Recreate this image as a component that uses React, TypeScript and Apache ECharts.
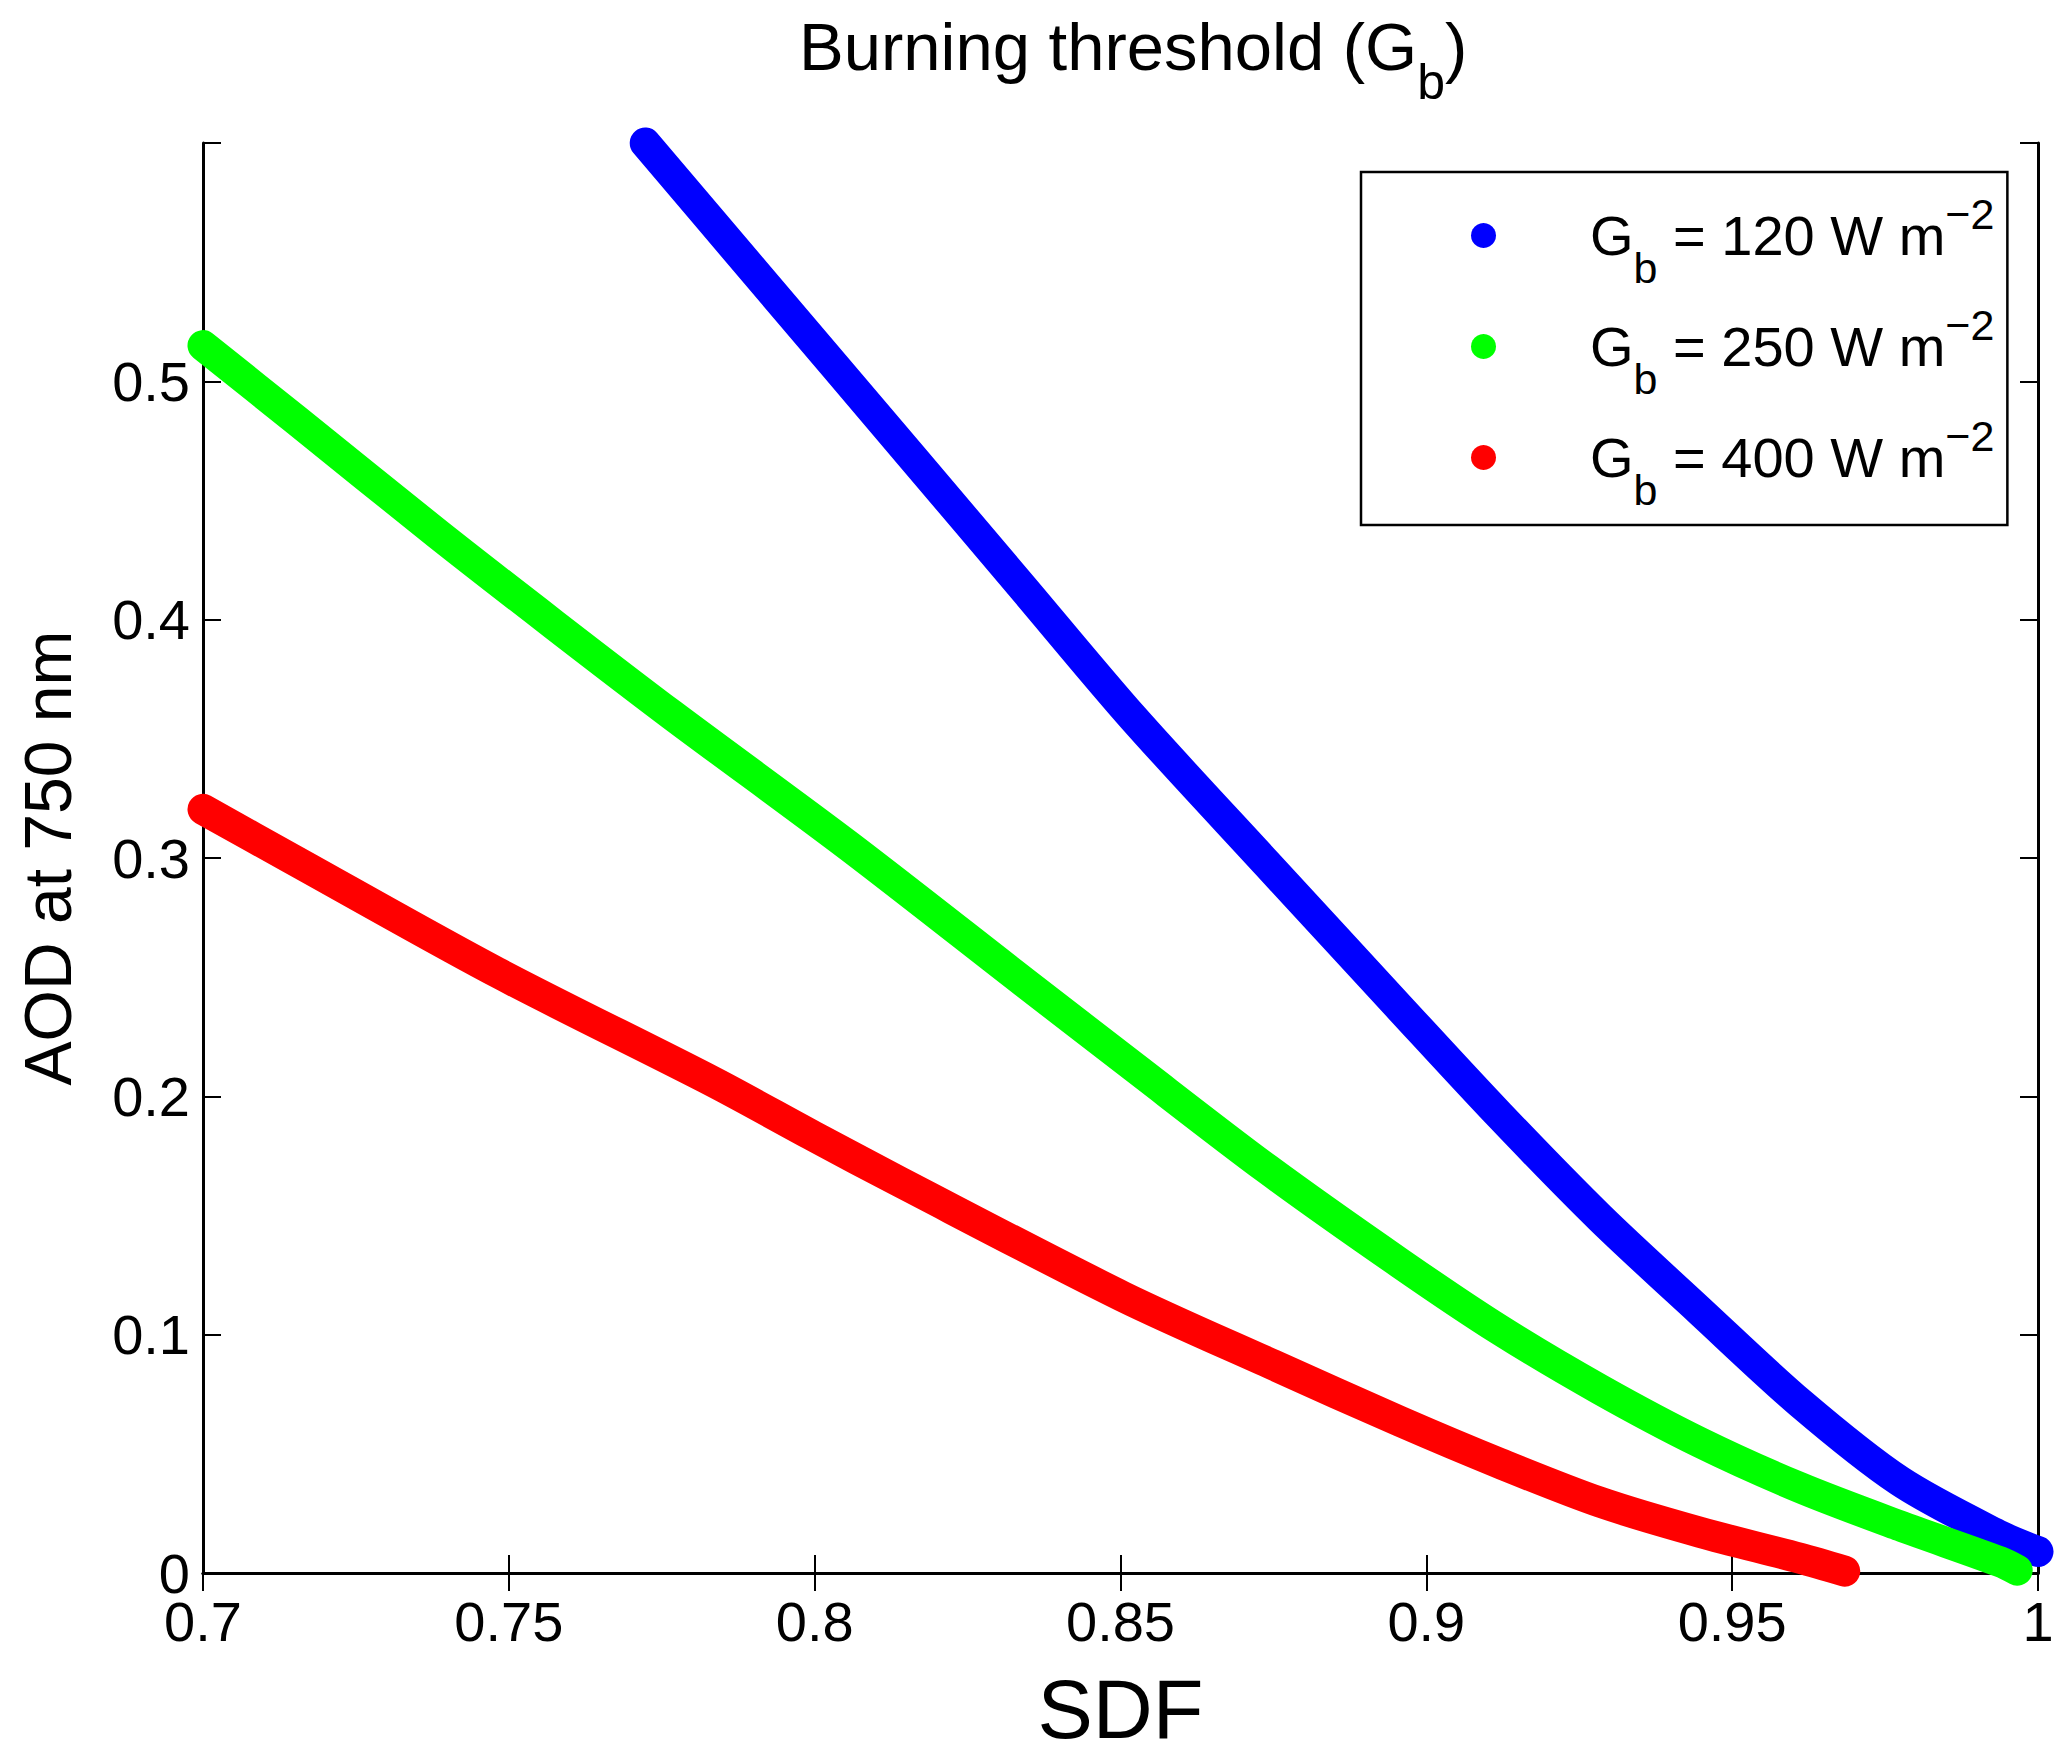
import { useEffect, useRef } from 'react'
import * as echarts from 'echarts'

// SDF / AOD values, one pair of arrays per threshold
const gbLabels = ['120', '250', '400']
const colors = ['#0000ff', '#00ff00', '#ff0000']

const sdf120 = [0.7723, 0.79, 0.816, 0.834, 0.852, 0.8739, 0.8957, 0.912, 0.9284, 0.9447, 0.9611, 0.9774, 0.9938, 1.0]
const aod120 = [0.6, 0.5465, 0.468, 0.4135, 0.359, 0.2977, 0.237, 0.192, 0.149, 0.11, 0.0714, 0.0386, 0.0156, 0.009]

const sdf250 = [0.7, 0.7153, 0.7384, 0.7575, 0.7767, 0.8055, 0.8342, 0.852, 0.8739, 0.8957, 0.912, 0.9284, 0.9447, 0.9611, 0.9774, 0.9938, 0.9966]
const aod250 = [0.515, 0.4836, 0.4359, 0.3977, 0.36, 0.3052, 0.248, 0.2127, 0.1697, 0.13, 0.102, 0.077, 0.0548, 0.0358, 0.0198, 0.0047, 0.0012]

const sdf400 = [0.7, 0.7144, 0.748, 0.7834, 0.7998, 0.814, 0.8503, 0.8749, 0.8957, 0.912, 0.9284, 0.9447, 0.9611, 0.9684]
const aod400 = [0.3204, 0.2998, 0.2521, 0.2061, 0.1833, 0.164, 0.1161, 0.0874, 0.0636, 0.046, 0.0297, 0.0171, 0.0062, 0.0008]

const xTicks = { min: 0.7, max: 1, interval: 0.05 }
const yTicks = { min: 0, max: 0.6, interval: 0.1 }

const FONT = '"Liberation Sans", Arial, Helvetica, sans-serif'

const pairs = (xs: number[], ys: number[]) => xs.map((x, i) => [x, ys[i]])
const seriesData = [pairs(sdf120, aod120), pairs(sdf250, aod250), pairs(sdf400, aod400)]
const seriesNames = gbLabels.map((g) => `Gb = ${g} W m-2`)

export default function App() {
  const chartRef = useRef<HTMLDivElement>(null)

  useEffect(() => {
    if (!chartRef.current) return
    document.body.style.margin = '0'

    const chart = echarts.init(chartRef.current, null, { renderer: 'svg' })

    const axisCommon = {
      type: 'value' as const,
      axisLine: { show: true, lineStyle: { color: '#000', width: 3 } },
      axisTick: { show: true, inside: true, length: 18, lineStyle: { color: '#000', width: 2 } },
      splitLine: { show: false },
    }

    chart.setOption({
      animation: false,
      backgroundColor: '#fff',
      textStyle: { fontFamily: FONT },
      title: {
        text: '{t|Burning threshold (G}{s|b}{t|)}',
        left: 799,
        top: 6,
        padding: 0,
        textStyle: {
          fontWeight: 'normal',
          rich: {
            t: { fontFamily: FONT, fontWeight: 'normal', fontSize: 67, lineHeight: 80, color: '#000' },
            s: { fontFamily: FONT, fontWeight: 'normal', fontSize: 50, lineHeight: 80, color: '#000', padding: [72, 0, 0, 0] },
          },
        },
      },
      legend: {
        orient: 'vertical',
        left: 1361,
        top: 172,
        padding: [10, 13, 14, 110],
        itemWidth: 25,
        itemHeight: 25,
        itemGap: 4,
        icon: 'circle',
        borderColor: '#000',
        borderWidth: 2.5,
        backgroundColor: '#fff',
        itemStyle: { borderWidth: 0 },
        data: seriesNames,
        formatter: (name: string) => {
          const g = gbLabels[seriesNames.indexOf(name)]
          return `{gap| }{m|G}{sub|b}{m| = ${g} W m}{sup|−2}`
        },
        textStyle: {
          rich: {
            gap: { width: 89, fontSize: 56, lineHeight: 70 },
            m: { fontFamily: FONT, fontSize: 56, lineHeight: 70, color: '#000' },
            sub: { fontFamily: FONT, fontSize: 43, lineHeight: 70, color: '#000', padding: [64, 0, 0, 0] },
            sup: { fontFamily: FONT, fontSize: 43, lineHeight: 70, color: '#000', padding: [0, 0, 44, 0] },
          },
        },
      },
      grid: { left: 203, right: 29, top: 143, bottom: 177, containLabel: false },
      xAxis: [
        {
          ...axisCommon,
          ...xTicks,
          position: 'bottom',
          name: 'SDF',
          nameLocation: 'middle',
          nameGap: 95,
          nameTextStyle: { fontFamily: FONT, fontSize: 83, color: '#000' },
          axisLabel: {
            margin: 26,
            fontFamily: FONT,
            fontSize: 56,
            lineHeight: 44,
            color: '#000',
            formatter: (v: number) => String(+v.toFixed(2)),
          },
        },
        { ...axisCommon, ...xTicks, position: 'top', axisLabel: { show: false } },
      ],
      yAxis: [
        {
          ...axisCommon,
          ...yTicks,
          position: 'left',
          name: 'AOD at 750 nm',
          nameLocation: 'middle',
          nameGap: 122,
          nameTextStyle: { fontFamily: FONT, fontSize: 66, color: '#000' },
          axisLabel: {
            margin: 13,
            fontFamily: FONT,
            fontSize: 56,
            lineHeight: 44,
            color: '#000',
            formatter: (v: number) => (v > 0.55 ? '' : String(+v.toFixed(1))),
          },
        },
        { ...axisCommon, ...yTicks, position: 'right', axisLabel: { show: false } },
      ],
      series: seriesData.map((data, i) => ({
        name: seriesNames[i],
        type: 'line',
        data,
        xAxisIndex: 0,
        yAxisIndex: 0,
        smooth: 0.3,
        symbol: 'none',
        clip: false,
        color: colors[i],
        itemStyle: { color: colors[i] },
        lineStyle: { color: colors[i], width: 31, cap: 'round', join: 'round' },
        z: 5,
      })),
    })

    return () => {
      chart.dispose()
    }
  }, [])

  return <div ref={chartRef} style={{ width: 2067, height: 1756 }}></div>
}
